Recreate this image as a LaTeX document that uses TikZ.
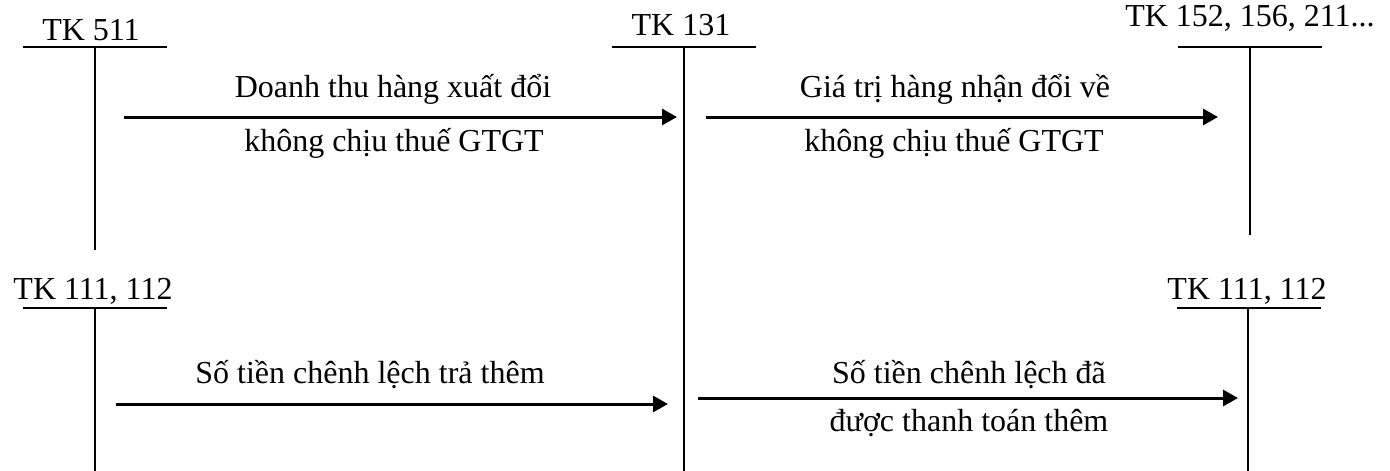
\documentclass[tikz,border=0pt]{standalone}
\usepackage{fontspec}
\setmainfont{Liberation Serif}
\usetikzlibrary{arrows.meta}
\begin{document}
\begin{tikzpicture}[x=1pt,y=-1pt,
  acct/.style={inner sep=0pt,anchor=base,font=\fontsize{32pt}{37pt}\selectfont},
  lbl/.style={inner sep=0pt,anchor=base,font=\fontsize{32pt}{37pt}\selectfont},
  tline/.style={line width=2pt},
  flow/.style={line width=3pt,-{Triangle[length=15pt,width=16pt]}}]
\useasboundingbox (0,0) rectangle (1390,471);
% T accounts
\node[acct] (tk511) at (91,40) {TK 511};
\node[acct] (tk131) at (681,35) {TK 131};
\node[acct] (tk152) at (1250,27) {TK 152, 156, 211...};
\node[acct] (tk111a) at (93,299) {TK 111, 112};
\node[acct] (tk111b) at (1247,299) {TK 111, 112};
% bars
\coordinate (a1) at (23,47); \coordinate (a2) at (167,47);
\coordinate (a3) at (95,47); \coordinate (a4) at (95,250);
\coordinate (b1) at (612,47); \coordinate (b2) at (756,47);
\coordinate (b3) at (684,47); \coordinate (b4) at (684,471);
\coordinate (c1) at (1178,47); \coordinate (c2) at (1322,47);
\coordinate (c3) at (1250,47); \coordinate (c4) at (1250,235);
\coordinate (d1) at (23,308); \coordinate (d2) at (167,308);
\coordinate (d3) at (95,308); \coordinate (d4) at (95,471);
\coordinate (e1) at (1177,308); \coordinate (e2) at (1321,308);
\coordinate (e3) at (1248,308); \coordinate (e4) at (1248,471);
\foreach \t in {a,b,c,d,e}{
  \draw[tline] (\t1) -- (\t2);
  \draw[tline] (\t3) -- (\t4);
}
% arrows
\coordinate (f1s) at (124,117); \coordinate (f1e) at (677,117);
\coordinate (f2s) at (706,117); \coordinate (f2e) at (1218,117);
\coordinate (f3s) at (116,404); \coordinate (f3e) at (668,404);
\coordinate (f4s) at (698,398); \coordinate (f4e) at (1238,398);
\draw[flow] (f1s) -- (f1e);
\draw[flow] (f2s) -- (f2e);
\draw[flow] (f3s) -- (f3e);
\draw[flow] (f4s) -- (f4e);
% labels
\node[lbl] (l1a) at (393,97) {Doanh thu hàng xuất đổi};
\node[lbl] (l1b) at (394,151) {không chịu thuế GTGT};
\node[lbl] (l2a) at (955,97) {Giá trị hàng nhận đổi về};
\node[lbl] (l2b) at (954,151) {không chịu thuế GTGT};
\node[lbl] (l3a) at (370,383) {Số tiền chênh lệch trả thêm};
\node[lbl] (l4a) at (969,383) {Số tiền chênh lệch đã};
\node[lbl] (l4b) at (969,431) {được thanh toán thêm};
\end{tikzpicture}
\end{document}
